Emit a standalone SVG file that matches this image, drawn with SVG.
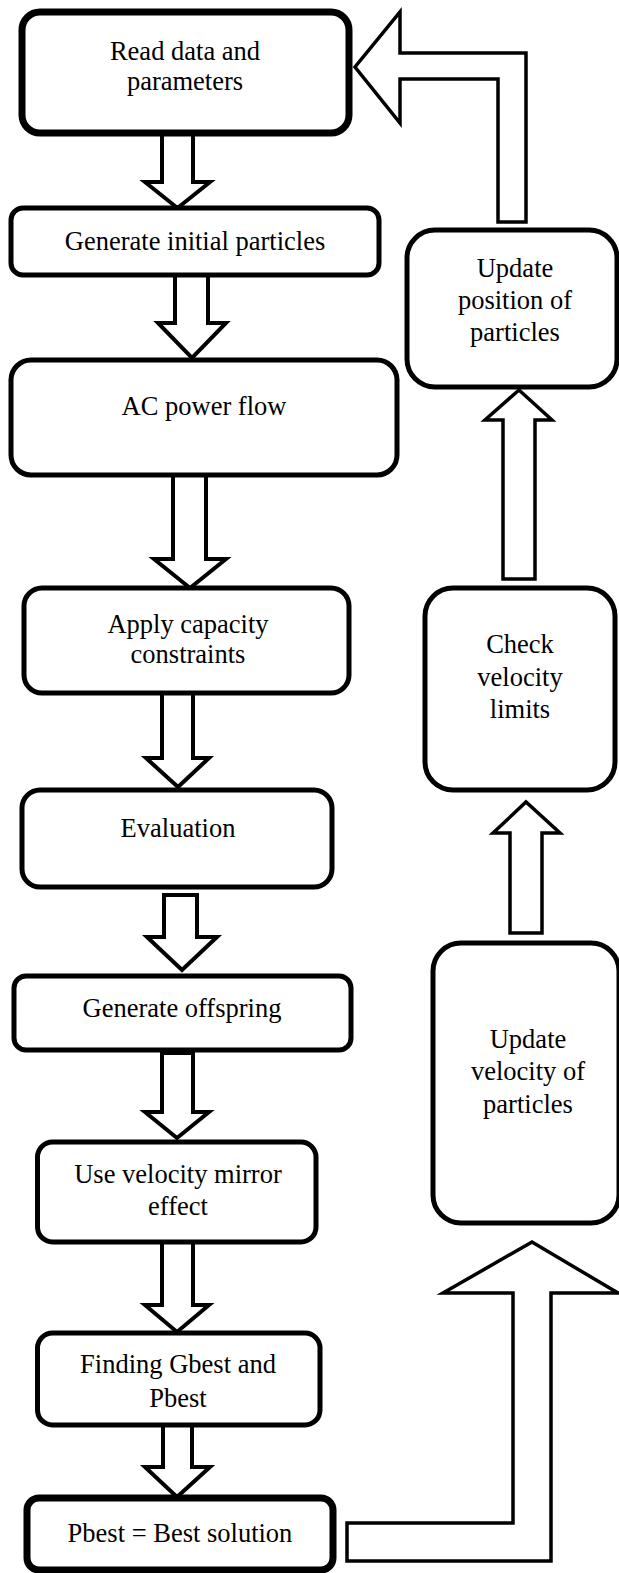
<svg xmlns="http://www.w3.org/2000/svg" width="619" height="1573" viewBox="0 0 619 1573">
<style>
.box{fill:#fff;stroke:#000;stroke-width:5}
.thick{stroke-width:7}
.arr{fill:#fff;stroke:#000;stroke-width:4;stroke-linejoin:miter}
.arr3{fill:#fff;stroke:#000;stroke-width:3.5;stroke-linejoin:miter}
text{font-family:'Liberation Serif','Times New Roman',Times,serif;font-size:26.5px;fill:#000;text-anchor:middle}
</style>
<rect width="619" height="1573" fill="#fff"/>
<g id="connectors">
<polygon class="arr" points="162,133 193,133 193,182 210,182 177.5,208 145,182 162,182"/>
<polygon class="arr" points="175,275 208,275 208,323 226,323 192,358 158,323 175,323"/>
<polygon class="arr" points="173,475 206,475 206,559 226,559 190,588 154,559 173,559"/>
<polygon class="arr" points="162,693 193,693 193,758 209,758 178,787 146,758 162,758"/>
<polygon class="arr" points="164,895 197,895 197,937 217,937 182,970 147,937 164,937"/>
<polygon class="arr" points="162,1053 193,1053 193,1112 209,1112 177,1138 145,1112 162,1112"/>
<polygon class="arr" points="162,1242 193,1242 193,1305 209,1305 177,1332 145,1305 162,1305"/>
<polygon class="arr" points="163,1425 192,1425 192,1467 210,1467 177,1497 145,1467 163,1467"/>
<polygon class="arr3" points="503,579 535,579 535,420 552,420 519,390 485,420 503,420"/>
<polygon class="arr3" points="510,933 542,933 542,833 560,833 526,802 493,833 510,833"/>
<polygon class="arr3" points="526,222 526,53 400,53 400,12 355,67 400,123 400,79 498,79 498,222"/>
<polygon class="arr3" points="347,1523 513,1523 513,1293 443,1293 532,1242 618,1293 551,1293 551,1561 347,1561"/>
</g>
<g id="n1"><rect class="box thick" x="22" y="12" width="327" height="121" rx="18"/><text x="185" y="60">Read data and</text><text x="185" y="90">parameters</text></g>
<g id="n2"><rect class="box" x="11" y="208" width="368" height="67" rx="12"/><text x="195" y="250">Generate initial particles</text></g>
<g id="n3"><rect class="box" x="11" y="360" width="386" height="115" rx="20"/><text x="204" y="415">AC power flow</text></g>
<g id="n4"><rect class="box" x="24" y="588" width="325" height="105" rx="18"/><text x="188" y="633">Apply capacity</text><text x="188" y="663">constraints</text></g>
<g id="n5"><rect class="box" x="22" y="790" width="310" height="97" rx="18"/><text x="178" y="837">Evaluation</text></g>
<g id="n6"><rect class="box" x="14" y="976" width="337" height="74" rx="12"/><text x="182" y="1017">Generate offspring</text></g>
<g id="n7"><rect class="box" x="37.5" y="1142" width="278.5" height="100" rx="15"/><text x="178" y="1183">Use velocity mirror</text><text x="178" y="1215">effect</text></g>
<g id="n8"><rect class="box" x="37.5" y="1333" width="282.5" height="92" rx="15"/><text x="178" y="1373">Finding Gbest and</text><text x="178" y="1407">Pbest</text></g>
<g id="n9"><rect class="box thick" x="27" y="1498" width="306" height="72" rx="12"/><text x="180" y="1542">Pbest = Best solution</text></g>
<g id="n10"><rect class="box" x="407" y="230" width="210" height="157" rx="28"/><text x="515" y="277">Update</text><text x="515" y="309">position of</text><text x="515" y="341">particles</text></g>
<g id="n11"><rect class="box" x="425" y="588" width="190" height="202" rx="28"/><text x="520" y="653">Check</text><text x="520" y="686">velocity</text><text x="520" y="718">limits</text></g>
<g id="n12"><rect class="box" x="433" y="943" width="186" height="280" rx="28"/><text x="528" y="1048">Update</text><text x="528" y="1080">velocity of</text><text x="528" y="1113">particles</text></g>
</svg>
